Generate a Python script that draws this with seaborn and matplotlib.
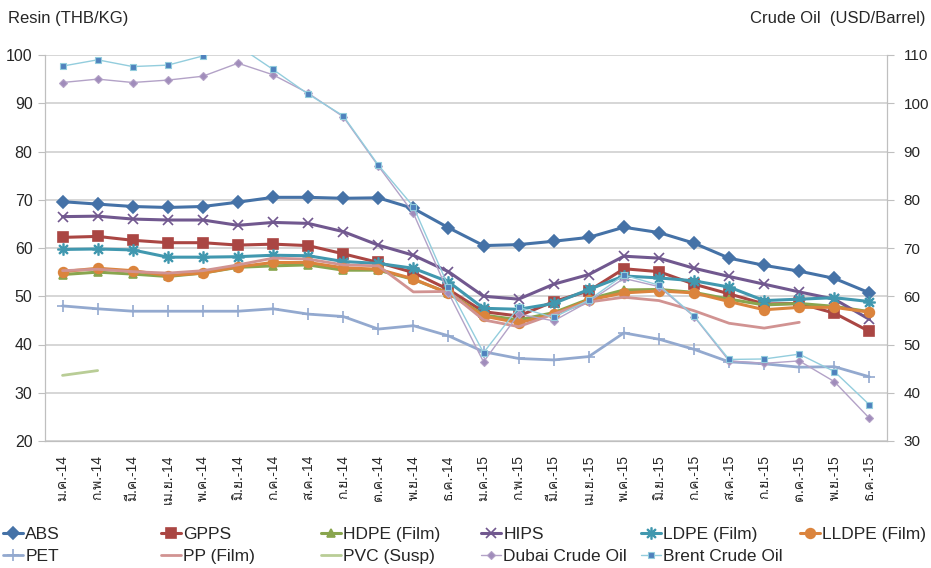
import matplotlib
matplotlib.use("Agg")
import matplotlib.pyplot as plt
from matplotlib import font_manager
from matplotlib.ft2font import FT2Font
import numpy as np
import seaborn as sns

nan = np.nan

months = ["ม.ค.-14", "ก.พ.-14", "มี.ค.-14", "เม.ย.-14", "พ.ค.-14", "มิ.ย.-14",
          "ก.ค.-14", "ส.ค.-14", "ก.ย.-14", "ต.ค.-14", "พ.ย.-14", "ธ.ค.-14",
          "ม.ค.-15", "ก.พ.-15", "มี.ค.-15", "เม.ย.-15", "พ.ค.-15", "มิ.ย.-15",
          "ก.ค.-15", "ส.ค.-15", "ก.ย.-15", "ต.ค.-15", "พ.ย.-15", "ธ.ค.-15"]

# resin prices (THB/KG)
abs_ = [69.6, 69.1, 68.6, 68.4, 68.6, 69.5, 70.5, 70.5, 70.3, 70.4, 68.2, 64.2,
        60.5, 60.7, 61.4, 62.2, 64.3, 63.2, 61.0, 57.9, 56.4, 55.2, 53.7, 50.7]
gpps = [62.2, 62.4, 61.6, 61.1, 61.1, 60.6, 60.8, 60.5, 58.8, 57.0, 54.9, 51.4,
        46.8, 45.9, 48.9, 51.1, 55.7, 55.1, 52.5, 50.5, 48.4, 48.5, 46.5, 42.7]
hdpe = [54.5, 55.0, 54.6, 54.1, 54.8, 56.0, 56.3, 56.5, 55.4, 55.4, 53.5, 50.7,
        46.1, 45.1, 46.6, 49.4, 51.3, 51.4, 50.8, 49.4, 48.2, 48.5, 47.9, 46.8]
hips = [66.5, 66.6, 66.0, 65.8, 65.8, 64.7, 65.3, 65.1, 63.4, 60.6, 58.5, 55.1,
        50.0, 49.4, 52.5, 54.5, 58.3, 57.9, 55.8, 54.1, 52.5, 50.9, 49.4, 45.2]
ldpe = [59.7, 59.8, 59.6, 58.1, 58.1, 58.2, 58.5, 58.4, 57.2, 56.8, 55.8, 53.0,
        47.5, 47.3, 48.5, 51.4, 54.2, 53.8, 53.2, 51.9, 49.1, 49.4, 49.7, 48.9]
lldpe = [55.1, 55.8, 55.3, 54.3, 54.8, 56.1, 57.0, 57.0, 55.9, 55.6, 53.6, 50.6,
         45.9, 44.5, 46.3, 49.2, 50.7, 51.1, 50.7, 48.9, 47.2, 47.7, 47.7, 46.7]
pet = [48.0, 47.4, 46.9, 46.9, 46.9, 46.9, 47.4, 46.3, 45.8, 43.2, 43.9, 41.8,
       38.5, 37.1, 36.8, 37.5, 42.4, 41.1, 39.0, 36.4, 36.0, 35.3, 35.4, 33.3]
pp = [55.3, 55.6, 55.1, 54.8, 55.3, 56.5, 57.9, 57.7, 56.5, 56.3, 50.9, 51.0,
      45.1, 43.7, 46.3, 48.8, 49.8, 49.1, 47.0, 44.4, 43.4, 44.6, nan, nan]
pvc = [33.6, 34.6] + [nan] * 22

# crude oil (USD/Barrel)
dubai = [104.3, 105.0, 104.3, 104.8, 105.6, 108.3, 105.9, 102.1, 97.2, 87.0, 77.2, 60.7,
         46.4, 56.3, 54.9, 58.9, 63.7, 62.0, 55.8, 46.6, 46.1, 46.6, 42.3, 34.7]
brent = [107.7, 109.0, 107.6, 107.9, 109.8, 111.9, 107.0, 101.9, 97.4, 87.2, 78.6, 62.0,
         48.3, 57.7, 55.6, 59.2, 64.4, 62.3, 55.9, 46.9, 47.0, 48.0, 44.4, 37.5]


def find_thai_font():
    for f in font_manager.fontManager.ttflist:
        try:
            if FT2Font(f.fname).get_char_index(ord("ม")):
                return f.name
        except Exception:
            pass
    return None


sns.set_style("white")
thai = find_thai_font()
families = ["Liberation Sans", "DejaVu Sans"]
if thai:
    families.append(thai)
plt.rcParams["font.family"] = families

fig = plt.figure(figsize=(9.31, 5.68), dpi=100)
ax = fig.add_axes([45 / 931, 1 - 441 / 568, 842 / 931, 386 / 568])
ax2 = ax.twinx()

x = np.arange(len(months))

resins = [
    ("ABS", abs_, "#4572A7", "D", 6, 2.2),
    ("GPPS", gpps, "#AA4643", "s", 6.5, 2.2),
    ("HDPE (Film)", hdpe, "#89A54E", "^", 6, 2.2),
    ("HIPS", hips, "#71588F", "x", 7, 2.2),
    ("LDPE (Film)", ldpe, "#4198AF", "$\u2733$", 8, 2.2),
    ("LLDPE (Film)", lldpe, "#DB843D", "o", 7, 2.2),
    ("PET", pet, "#93A9CF", "+", 8, 2.0),
    ("PP (Film)", pp, "#D19392", None, 0, 2.0),
    ("PVC (Susp)", pvc, "#B9CD96", None, 0, 2.0),
]
for name, vals, col, mk, ms, lw in resins:
    sns.lineplot(x=x, y=vals, ax=ax, color=col, marker=mk, markersize=ms,
                 markeredgecolor=col, markeredgewidth=1.2, linewidth=lw, label=name)

crude = [
    ("Dubai Crude Oil", dubai, "#B3A2C7", "#A08CBB", "D", 4),
    ("Brent Crude Oil", brent, "#93CDDD", "#4F81BD", "s", 4.5),
]
for name, vals, col, mcol, mk, ms in crude:
    sns.lineplot(x=x, y=vals, ax=ax2, color=col, marker=mk, markersize=ms,
                 markerfacecolor=mcol, markeredgecolor=col, markeredgewidth=0.8,
                 linewidth=1.0, label=name)

ax.set_ylim(20, 100)
ax2.set_ylim(30, 110)
ax.set_xlim(-0.5, len(months) - 0.5)
ax.set_yticks(np.arange(20, 101, 10))
ax2.set_yticks(np.arange(30, 111, 10))
ax.grid(axis="y", color="#D0D0D0", linewidth=1.2)
ax.grid(axis="x", visible=False)
ax2.grid(False)

ax.set_xticks(x)
ax.set_xticklabels(months, rotation=90, fontsize=10)
ax.set_xticks(np.arange(-0.5, len(months), 1), minor=True)
ax.tick_params(axis="x", which="major", length=0, pad=10)
ax.tick_params(axis="x", which="minor", length=5, color="#BFBFBF", direction="out")
ax.tick_params(axis="y", length=5, color="#BFBFBF", labelsize=11.5, pad=4, left=True)
ax2.tick_params(axis="y", length=5, color="#BFBFBF", labelsize=11, pad=7, right=True)

for a in (ax, ax2):
    a.spines["top"].set_visible(False)
    for side in ("left", "right", "bottom"):
        a.spines[side].set_color("#BFBFBF")
ax.set_xlabel("")
ax.set_ylabel("")
ax2.set_ylabel("")

fig.text(8 / 931, 1 - 18 / 568, "Resin (THB/KG)", fontsize=12, va="center")
fig.text(925 / 931, 1 - 18 / 568, "Crude Oil  (USD/Barrel)", fontsize=12,
         va="center", ha="right")

h1, l1 = ax.get_legend_handles_labels()
h2, l2 = ax2.get_legend_handles_labels()
ax.get_legend().remove()
ax2.get_legend().remove()
hs = dict(zip(l1 + l2, h1 + h2))

# legend laid out as a fixed grid, one legend per column
columns = [["ABS", "PET"], ["GPPS", "PP (Film)"], ["HDPE (Film)", "PVC (Susp)"],
           ["HIPS", "Dubai Crude Oil"], ["LDPE (Film)", "Brent Crude Oil"],
           ["LLDPE (Film)"]]
col_x = [0, 158, 318, 478, 638, 797]
for names, cx in zip(columns, col_x):
    fig.legend([hs[n] for n in names], names, loc="upper left",
               bbox_to_anchor=(cx / 931, 1 - 523 / 568), frameon=False,
               fontsize=12.5, handlelength=1.1, handletextpad=0.15,
               labelspacing=0.42, borderaxespad=0, borderpad=0.2)

fig.savefig("out.png", dpi=100)
